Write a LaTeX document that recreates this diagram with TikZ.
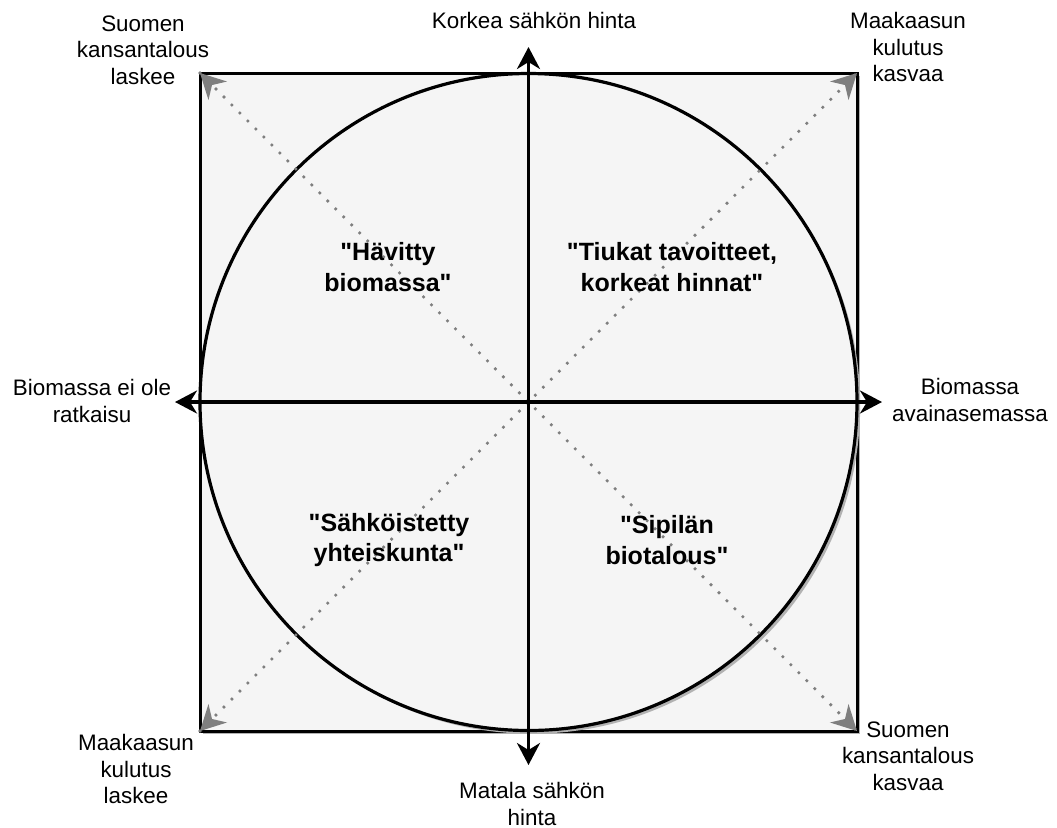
\documentclass[tikz,border=0pt]{standalone}
\usepackage{fontspec}
\setmainfont{Liberation Sans}
\usetikzlibrary{arrows.meta,shadows,calc}
\definecolor{pistevari}{HTML}{7F7F7F}
\newcommand{\lainaus}{\textquotedbl}

\begin{document}
\begin{tikzpicture}[x=0.5pt,y=-0.5pt,
        varjo/.style={drop shadow={shadow xshift=1.6pt,shadow yshift=-1.6pt,fill=gray!60,opacity=1}},
        akseli/.style={line width=1.7pt,{Stealth[length=11pt,width=11.5pt,inset=3.5pt]}-{Stealth[length=11pt,width=11.5pt,inset=3.5pt]}},
        lavistaja/.style={draw=pistevari,line width=1.8pt,line cap=round,dash pattern=on 0pt off 5.65pt},
        karki/.style={draw=pistevari,line width=1pt,-{Stealth[length=12.5pt,width=13pt,inset=4pt,fill=pistevari]}},
        teksti/.style={align=center,font=\fontsize{11.2}{13.25}\selectfont},
        skenaario/.style={align=center,font=\fontsize{12.5}{15.2}\selectfont\bfseries}]
    \useasboundingbox (0,0) rectangle (1057,827);
    \node[draw,line width=1.5pt,fill=gray!8,varjo,minimum width=328.5pt,minimum height=329pt,inner sep=0pt,outer sep=0pt] (kentta) at (528.5,402) {};
    \node[circle,draw,line width=1.6pt,fill=gray!8,varjo,minimum size=328.5pt,inner sep=0pt,outer sep=0pt] (ympyra) at (528.5,402) {};
    \coordinate (keski) at (528.5,402);
    \draw[lavistaja] (kentta.north west) -- (kentta.south east);
    \draw[lavistaja] (kentta.south west) -- (kentta.north east);
    \foreach \kulma in {north west,north east,south west,south east}
        \draw[karki] ($(kentta.\kulma)!0.02!(keski)$) -- (kentta.\kulma);
    \coordinate (ylapaa) at (528.5,47);
    \coordinate (alapaa) at (528.5,765);
    \coordinate (vasenpaa) at (175,402);
    \coordinate (oikeapaa) at (882,402);
    \draw[akseli] (alapaa) -- (ylapaa);
    \draw[akseli] (vasenpaa) -- (oikeapaa);
    \node[teksti] (korkea) at (534,20) {Korkea sähkön hinta};
    \node[teksti] (matala) at (532,804) {Matala sähkön\\hinta};
    \node[teksti] (eiratkaisu) at (92,401) {Biomassa ei ole\\ratkaisu};
    \node[teksti] (avain) at (970,400) {Biomassa\\avainasemassa};
    \node[teksti] (laskee) at (143,50) {Suomen\\kansantalous\\laskee};
    \node[teksti] (kaasukasvaa) at (908,47) {Maakaasun\\kulutus\\kasvaa};
    \node[teksti] (kaasulaskee) at (136,769) {Maakaasun\\kulutus\\laskee};
    \node[teksti] (kasvaa) at (908,756) {Suomen\\kansantalous\\kasvaa};
    \node[skenaario] (havitty) at (388,267) {\lainaus Hävitty\\biomassa\lainaus};
    \node[skenaario] (tiukat) at (672,267) {\lainaus Tiukat tavoitteet,\\korkeat hinnat\lainaus};
    \node[skenaario] (sahko) at (389,540) {\lainaus Sähköistetty\\yhteiskunta\lainaus};
    \node[skenaario] (sipila) at (667,540) {\lainaus Sipilän\\biotalous\lainaus};
\end{tikzpicture}
\end{document}
